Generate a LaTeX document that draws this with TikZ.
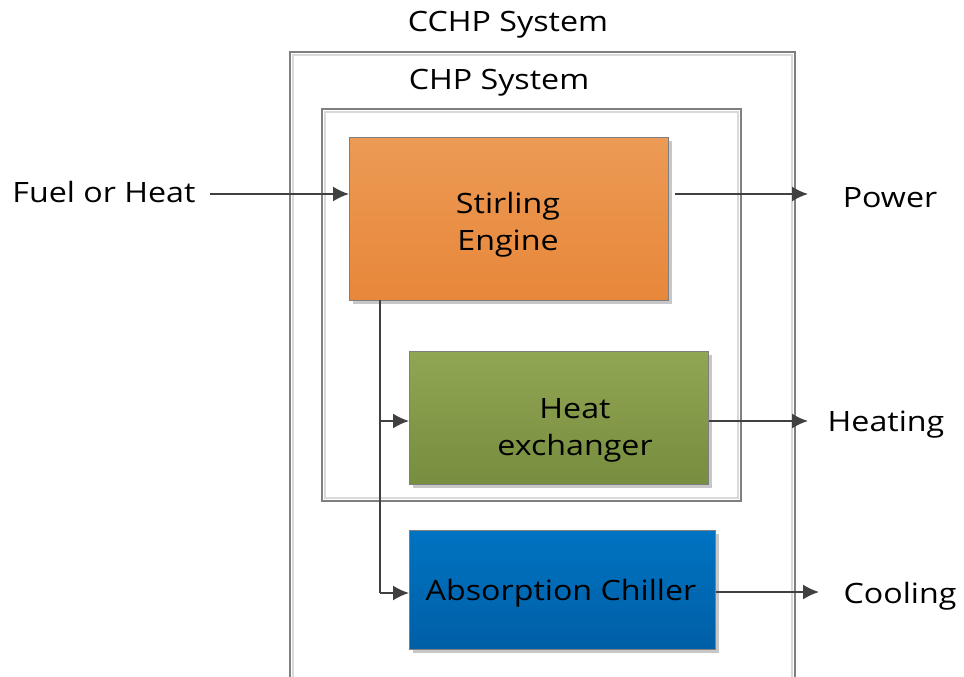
\documentclass[tikz,border=0pt]{standalone}
\usepackage{fontspec}
\setmainfont{Open Sans}[FakeStretch=1.15]
\usetikzlibrary{arrows.meta,shadows}
\definecolor{lineg}{HTML}{404040}
\definecolor{frameg}{HTML}{7F7F7F}
\definecolor{framel}{HTML}{D9D9D9}
\definecolor{orT}{HTML}{EC9A55}
\definecolor{orB}{HTML}{E7873A}
\definecolor{grT}{HTML}{90A653}
\definecolor{grB}{HTML}{778D3F}
\definecolor{blT}{HTML}{0073C2}
\definecolor{blB}{HTML}{005FA6}
\tikzset{
  lbl/.style={font=\fontsize{28}{32}\selectfont, inner sep=0pt},
  txt/.style={font=\fontsize{28}{37}\selectfont, align=center, inner sep=0pt},
  blk/.style={draw=frameg, line width=1pt, inner sep=0pt, anchor=north west,
    drop shadow={shadow xshift=3pt, shadow yshift=-3pt, fill=black!22, opacity=1}},
  conn/.style={draw=lineg, line width=1.8pt, -{Latex[length=16pt,width=15pt]}},
  plainconn/.style={draw=lineg, line width=1.8pt}
}
\begin{document}
\begin{tikzpicture}[x=1pt,y=-1pt]
\useasboundingbox (0,0) rectangle (964,677);
% CCHP frame (extends below)
\draw[frameg, line width=1.4pt] (290,700) -- (290,52) -- (795,52) -- (795,700);
\draw[framel, line width=1.2pt] (293,700) -- (293,55) -- (792,55) -- (792,700);
\node[lbl] (cchp) at (508,25) {CCHP System};
% CHP frame
\draw[frameg, line width=1.4pt] (322,109) rectangle (741,501);
\draw[framel, line width=1.2pt] (325,112) rectangle (738,498);
\node[lbl] (chp) at (499,83) {CHP System};
% blocks
\node[blk, top color=orT, bottom color=orB, minimum width=319pt, minimum height=163pt] (se) at (349,137) {};
\node[txt] (set) at (508,225) {Stirling\\Engine};
\node[blk, top color=grT, bottom color=grB, minimum width=299pt, minimum height=133pt] (he) at (409,351) {};
\node[txt] (het) at (575,430) {Heat\\exchanger};
\node[blk, top color=blT, bottom color=blB, minimum width=306pt, minimum height=119pt] (ac) at (409,530) {};
\node[txt] (act) at (561,593) {Absorption Chiller};
% labels outside
\node[lbl] (fuel) at (104,192) {Fuel or Heat};
\node[lbl] (pow) at (890,198) {Power};
\node[lbl] (heat) at (886,425) {Heating};
\node[lbl] (cool) at (900,596) {Cooling};
% connector ends
\coordinate (fs) at (210,194);
\coordinate (pe) at (808,194);
\coordinate (hte) at (808,421);
\coordinate (ce) at (819,592);
\coordinate (br) at (380,300);
\coordinate (bh) at (380,421);
\coordinate (bc) at (380,593);
% connectors
\draw[conn] (fs) -- (fs -| se.west);
\draw[conn] (pe -| se.east) ++(6,0) -- (pe);
\draw[conn] (hte -| he.east) -- (hte);
\draw[conn] (ce -| ac.east) -- (ce);
\draw[plainconn] (br) -- (bc);
\draw[conn] (bh) -- (bh -| he.west);
\draw[conn] (bc) -- (bc -| ac.west);
\end{tikzpicture}
\end{document}
